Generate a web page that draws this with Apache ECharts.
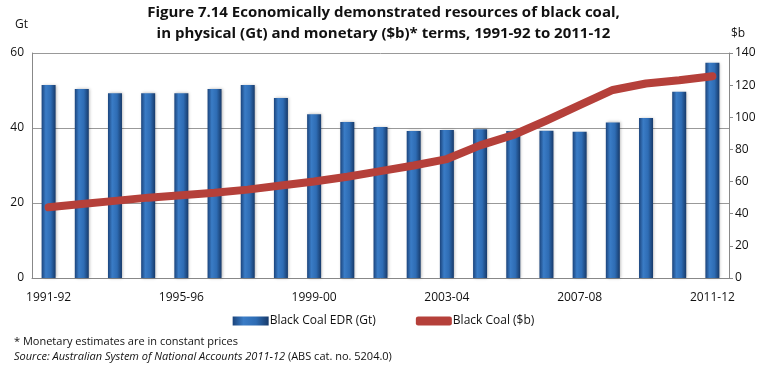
<!DOCTYPE html>
<html>
<head>
<meta charset="utf-8">
<script src="https://cdn.jsdelivr.net/npm/echarts@6/dist/echarts.min.js"></script>
<style>
  html, body { margin: 0; padding: 0; background: #fff; }
  #chart { width: 767px; height: 365px; }
</style>
</head>
<body>
<div id="chart"></div>
<script>
const years = ['1991-92', '1992-93', '1993-94', '1994-95', '1995-96', '1996-97', '1997-98',
  '1998-99', '1999-00', '2000-01', '2001-02', '2002-03', '2003-04', '2004-05', '2005-06',
  '2006-07', '2007-08', '2008-09', '2009-10', '2010-11', '2011-12']
// Gt, left axis
const edrGt = [51.5, 50.4, 49.3, 49.3, 49.3, 50.4, 51.5, 48.0, 43.7, 41.6, 40.3, 39.2,
  39.5, 39.7, 39.2, 39.3, 39.0, 41.5, 42.7, 49.7, 57.4]
// $b, right axis
const valueB = [44, 46, 48, 50, 51.5, 53, 55, 57.5, 60, 63, 66.5, 70,
  74, 82.5, 89, 98, 107.5, 117, 121, 123, 125.5]

const font = '"Open Sans", "DejaVu Sans", sans-serif'
const chart = echarts.init(document.getElementById('chart'))

chart.setOption({
  animation: false,
  textStyle: { fontFamily: font },
  title: [
    {
      text: 'Figure 7.14 Economically demonstrated resources of black coal,\nin physical (Gt) and monetary ($b)* terms, 1991-92 to 2011-12',
      left: 'center',
      top: -3,
      textStyle: { fontSize: 15, fontWeight: 'bold', color: '#111', lineHeight: 21, fontFamily: font },
    },
    {
      text: '* Monetary estimates are in constant prices',
      left: 9,
      top: 331,
      textStyle: { fontSize: 11, fontWeight: 'normal', color: '#111', fontFamily: font },
    },
    {
      text: '{i|Source: Australian System of National Accounts 2011-12} {n|(ABS cat. no. 5204.0)}',
      left: 9,
      top: 346,
      textStyle: {
        fontSize: 11,
        fontWeight: 'normal',
        fontFamily: font,
        rich: {
          i: { fontStyle: 'italic', fontWeight: 'normal', fontSize: 11, color: '#111', fontFamily: font },
          n: { fontWeight: 'normal', fontSize: 11, color: '#111', fontFamily: font },
        },
      },
    },
  ],
  legend: {
    top: 310,
    left: 'center',
    itemWidth: 36,
    itemHeight: 9,
    itemGap: 40,
    textStyle: { fontSize: 12, color: '#111', padding: [0, 0, 0, -4] },
    data: [
      { name: 'Black Coal EDR (Gt)', icon: 'rect' },
      { name: 'Black Coal ($b)', icon: 'roundRect' },
    ],
  },
  grid: { left: 32, right: 38, top: 53, bottom: 87 },
  xAxis: {
    type: 'category',
    data: years,
    axisLine: { lineStyle: { color: '#888' } },
    axisTick: { show: false },
    axisLabel: { interval: 3, color: '#111', fontSize: 12, margin: 14 },
  },
  yAxis: [
    {
      type: 'value',
      name: 'Gt',
      min: 0,
      max: 60,
      interval: 20,
      nameLocation: 'end',
      nameGap: 22,
      nameTextStyle: { color: '#111', fontSize: 12, align: 'right', padding: [0, 4, 0, 0] },
      axisLine: { show: true, lineStyle: { color: '#888' } },
      axisTick: { show: false },
      axisLabel: { color: '#111', fontSize: 12, margin: 8 },
      splitLine: { lineStyle: { color: '#999', width: 1 } },
    },
    {
      type: 'value',
      name: '$b',
      min: 0,
      max: 140,
      interval: 20,
      nameLocation: 'end',
      nameGap: 13,
      nameTextStyle: { color: '#111', fontSize: 12, align: 'left', padding: [0, 0, 0, 2] },
      axisLine: { show: true, lineStyle: { color: '#888' } },
      axisTick: { show: true, length: 4, lineStyle: { color: '#888' } },
      axisLabel: { color: '#111', fontSize: 12, margin: 6 },
      splitLine: { show: false },
    },
  ],
  series: [
    {
      name: 'Black Coal EDR (Gt)',
      type: 'bar',
      yAxisIndex: 0,
      data: edrGt,
      barWidth: 14,
      itemStyle: {
        color: new echarts.graphic.LinearGradient(0, 0, 1, 0, [
          { offset: 0, color: '#1b447c' },
          { offset: 0.3, color: '#3a7cc6' },
          { offset: 0.65, color: '#2e6cb4' },
          { offset: 1, color: '#173a6a' },
        ]),
        shadowColor: 'rgba(0,0,0,0.3)',
        shadowBlur: 3,
        shadowOffsetX: 1,
      },
    },
    {
      name: 'Black Coal ($b)',
      type: 'line',
      yAxisIndex: 1,
      data: valueB,
      symbol: 'none',
      lineStyle: { color: '#b5403a', width: 8, cap: 'round', join: 'round' },
      itemStyle: { color: '#b5403a' },
    },
  ],
})
</script>
</body>
</html>
